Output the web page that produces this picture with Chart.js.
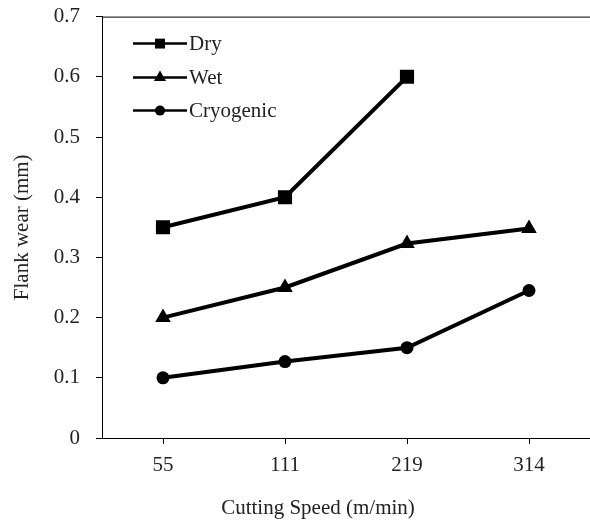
<!DOCTYPE html>
<html>
<head>
<meta charset="utf-8">
<script src="https://cdn.jsdelivr.net/npm/chart.js"></script>
<style>
  html, body { margin: 0; padding: 0; background: #fff; overflow: hidden; }
  /* canvas is a bit larger than the window; the extra label padding Chart.js adds sits outside */
  #wrap { width: 590px; height: 520px; overflow: hidden; position: relative; }
  #myChart { position: absolute; left: 0; top: -12px; }
</style>
</head>
<body>
<div id="wrap"><canvas id="myChart" width="600" height="532"></canvas></div>
<script>
// data
const speeds = ['55', '111', '219', '314'];
const dry = [0.35, 0.40, 0.60, null];
const wet = [0.20, 0.25, 0.323, 0.348];
const cryogenic = [0.10, 0.127, 0.15, 0.245];
const yTicks = [0, 0.1, 0.2, 0.3, 0.4, 0.5, 0.6, 0.7];
const xTitle = 'Cutting Speed (m/min)';

const serif = '"Liberation Serif", "Times New Roman", serif';
const fs = 21;

function series(label, values, style, radius) {
  return {
    label: label,
    data: values,
    borderColor: '#000',
    backgroundColor: '#000',
    borderWidth: 4,
    pointStyle: style,
    pointRadius: radius,
    pointHoverRadius: radius,
    pointBorderWidth: 0,
    tension: 0,
    spanGaps: false
  };
}

// legend inside the plot, top border, x title (sits left of the axis centre in the original)
const boxLegend = {
  id: 'boxLegend',
  afterDraw(chart) {
    const ctx = chart.ctx;
    const area = chart.chartArea;
    ctx.save();
    ctx.strokeStyle = '#000';
    ctx.lineWidth = 1;
    ctx.beginPath();
    ctx.moveTo(area.left, area.top + 0.5);
    ctx.lineTo(chart.width, area.top + 0.5);
    ctx.stroke();

    ctx.fillStyle = '#222';
    ctx.font = fs + 'px ' + serif;
    ctx.textAlign = 'center';
    ctx.textBaseline = 'middle';
    ctx.fillText(xTitle, 318, area.bottom + 70);

    const rows = [27, 61, 94];
    const sizes = [7, 7, 5];
    chart.data.datasets.forEach(function (ds, i) {
      const y = area.top + rows[i];
      ctx.strokeStyle = '#000';
      ctx.lineWidth = 2.5;
      ctx.beginPath();
      ctx.moveTo(133, y);
      ctx.lineTo(187, y);
      ctx.stroke();
      ctx.fillStyle = '#000';
      Chart.helpers.drawPoint(ctx, {
        pointStyle: ds.pointStyle,
        radius: sizes[i],
        borderWidth: 0
      }, 160, y);
      ctx.fillStyle = '#222';
      ctx.font = fs + 'px ' + serif;
      ctx.textBaseline = 'middle';
      ctx.textAlign = 'left';
      ctx.fillText(ds.label, 189, y + 1);
    });
    ctx.restore();
  }
};

const config = {
  type: 'line',
  data: {
    labels: speeds,
    datasets: [
      series('Dry', dry, 'rect', 10),
      series('Wet', wet, 'triangle', 9),
      series('Cryogenic', cryogenic, 'circle', 6.5)
    ]
  },
  options: {
    responsive: false,
    animation: false,
    layout: { padding: { top: 0, right: 0, left: 10, bottom: 0 } },
    plugins: {
      legend: { display: false },
      tooltip: { enabled: false }
    },
    scales: {
      x: {
        offset: true,
        afterFit: function (scale) { scale.height = 82; },
        grid: {
          drawOnChartArea: false,
          color: '#000',
          tickLength: 6,
          offset: false
        },
        border: { color: '#000', width: 1 },
        ticks: { color: '#222', font: { family: serif, size: fs }, padding: 9 },
        title: { display: false }
      },
      y: {
        min: 0,
        max: 0.7,
        afterFit: function (scale) { scale.width = 92; },
        afterBuildTicks: function (scale) {
          scale.ticks = yTicks.map(function (v) { return { value: v }; });
        },
        grid: {
          drawOnChartArea: false,
          color: '#000',
          tickLength: 6
        },
        border: { color: '#000', width: 1 },
        ticks: {
          color: '#222',
          font: { family: serif, size: fs },
          padding: 16,
          callback: function (v) { return v === 0 ? '0' : v.toFixed(1); }
        },
        title: {
          display: true,
          text: 'Flank wear (mm)',
          color: '#222',
          font: { family: serif, size: fs },
          padding: { top: 0, bottom: 6 }
        }
      }
    }
  },
  plugins: [boxLegend]
};

const myChart = new Chart(document.getElementById('myChart'), config);
</script>
</body>
</html>
